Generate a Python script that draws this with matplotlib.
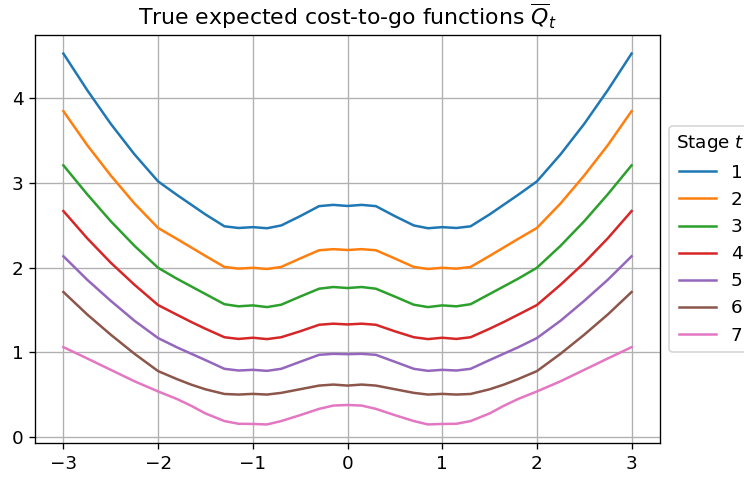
import matplotlib
matplotlib.use("Agg")
import matplotlib.pyplot as plt
import numpy as np

plt.rcParams["font.size"] = 11

# left half of the state grid, the curves are symmetric around 0
x_half = [-3.0, -2.75, -2.5, -2.25, -2.0, -1.8, -1.65, -1.5, -1.3, -1.15, -1.0, -0.85, -0.7, -0.5, -0.3, -0.15, 0.0]

q1 = [4.53, 4.10, 3.70, 3.34, 3.02, 2.86, 2.745, 2.63, 2.49, 2.47, 2.48, 2.467, 2.50, 2.61, 2.728, 2.743, 2.73]
q2 = [3.85, 3.45, 3.09, 2.76, 2.47, 2.34, 2.24, 2.14, 2.01, 1.99, 2.00, 1.986, 2.01, 2.11, 2.207, 2.22, 2.21]
q3 = [3.21, 2.87, 2.55, 2.26, 2.00, 1.87, 1.78, 1.69, 1.57, 1.545, 1.556, 1.536, 1.564, 1.66, 1.753, 1.773, 1.761]
q4 = [2.67, 2.35, 2.06, 1.80, 1.56, 1.445, 1.36, 1.28, 1.18, 1.16, 1.174, 1.158, 1.18, 1.25, 1.327, 1.34, 1.331]
q5 = [2.136, 1.86, 1.61, 1.375, 1.17, 1.06, 0.985, 0.91, 0.807, 0.787, 0.795, 0.783, 0.807, 0.89, 0.972, 0.984, 0.98]
q6 = [1.714, 1.45, 1.21, 0.985, 0.78, 0.685, 0.62, 0.565, 0.51, 0.503, 0.511, 0.503, 0.523, 0.566, 0.609, 0.621, 0.609]
q7 = [1.063, 0.93, 0.795, 0.66, 0.54, 0.45, 0.37, 0.28, 0.19, 0.158, 0.156, 0.15, 0.19, 0.26, 0.334, 0.373, 0.38]

stages = [1, 2, 3, 4, 5, 6, 7]
curves = [q1, q2, q3, q4, q5, q6, q7]


def mirror(xs, ys):
    # build the full curve from the left half
    xs = np.array(xs)
    ys = np.array(ys)
    x_full = np.concatenate([xs, -xs[-2::-1]])
    y_full = np.concatenate([ys, ys[-2::-1]])
    return x_full, y_full


fig = plt.figure(figsize=(6.2, 478 / 120), dpi=120)
ax = fig.add_axes([35 / 744, 1 - 443 / 478, 625 / 744, 408 / 478])

for t, q in zip(stages, curves):
    xs, ys = mirror(x_half, q)
    ax.plot(xs, ys, label=str(t))

ax.set_title(r"True expected cost-to-go functions $\overline{Q}_t$")
ax.set_xticks([-3, -2, -1, 0, 1, 2, 3])
ax.set_yticks([0, 1, 2, 3, 4])
ax.grid(True)
ax.legend(title="Stage $t$", loc="center left", bbox_to_anchor=(1, 0.5))

fig.savefig("out.png", dpi=120)
